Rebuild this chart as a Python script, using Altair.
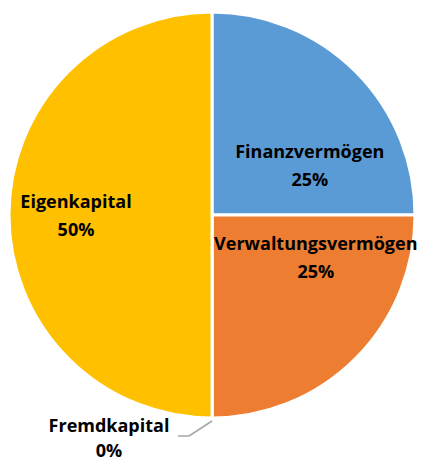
import altair as alt
import pandas as pd

categories = ["Finanzvermögen", "Verwaltungsvermögen", "Fremdkapital", "Eigenkapital"]
values = [25, 25, 0, 50]
pct_labels = ["25%", "25%", "0%", "50%"]
colors = ["#5B9BD5", "#ED7D31", "#A5A5A5", "#FFC000"]

df = pd.DataFrame({
    "cat": categories,
    "val": values,
    "pct": pct_labels,
    "ord": list(range(len(categories))),
})
df["label"] = df["cat"] + "\n" + df["pct"]
TOTAL = sum(values)

W, H = 408, 414
R = 203
FONT = "Open Sans"

pie = alt.Chart(df).mark_arc(outerRadius=R, stroke="white", strokeWidth=3).encode(
    theta=alt.Theta("val:Q", stack=True),
    order=alt.Order("ord:Q"),
    color=alt.Color("cat:N", scale=alt.Scale(domain=categories, range=colors), legend=None),
)

# text base: mid angle of each slice computed before filtering
tbase = alt.Chart(df).transform_window(
    cum="sum(val)", sort=[alt.SortField("ord")], frame=[None, 0]
).transform_calculate(
    mid="datum.cum - datum.val / 2"
).encode(
    theta=alt.Theta("mid:Q", scale=alt.Scale(domain=[0, TOTAL])),
    text="label:N",
)

# label placement style per category: radius, dx, dy, lineHeight
label_style = {
    "Finanzvermögen": (110, 20, 16, 28),
    "Verwaltungsvermögen": (110, 26, -48, 28),
    "Fremdkapital": (150, -103, 62, 25),
    "Eigenkapital": (136, 0, -12, 28),
}

layers = [pie]
for cat, (rad, dx, dy, lh) in label_style.items():
    layers.append(
        tbase.transform_filter(alt.datum.cat == cat).mark_text(
            radius=rad, dx=dx, dy=dy, font=FONT, fontWeight="bold", fontSize=18,
            lineBreak="\n", lineHeight=lh, color="#000000", align="center", baseline="middle",
        )
    )

leader1 = alt.Chart(df).transform_filter(alt.datum.cat == "Fremdkapital").mark_rule(
    color="#A6A6A6", strokeWidth=1.5
).encode(x=alt.value(204), y=alt.value(413), x2=alt.value(181), y2=alt.value(428))
leader2 = alt.Chart(df).transform_filter(alt.datum.cat == "Fremdkapital").mark_rule(
    color="#A6A6A6", strokeWidth=1.5
).encode(x=alt.value(181), y=alt.value(428), x2=alt.value(170), y2=alt.value(428))
layers += [leader1, leader2]

chart = alt.layer(*layers).properties(
    width=W, height=H,
    autosize=alt.AutoSizeParams(type="none"),
    padding={"left": 0, "top": 0, "right": 2, "bottom": 39},
).configure_view(stroke=None)

chart.save("out.html", embed_options={"renderer": "svg", "actions": False})
